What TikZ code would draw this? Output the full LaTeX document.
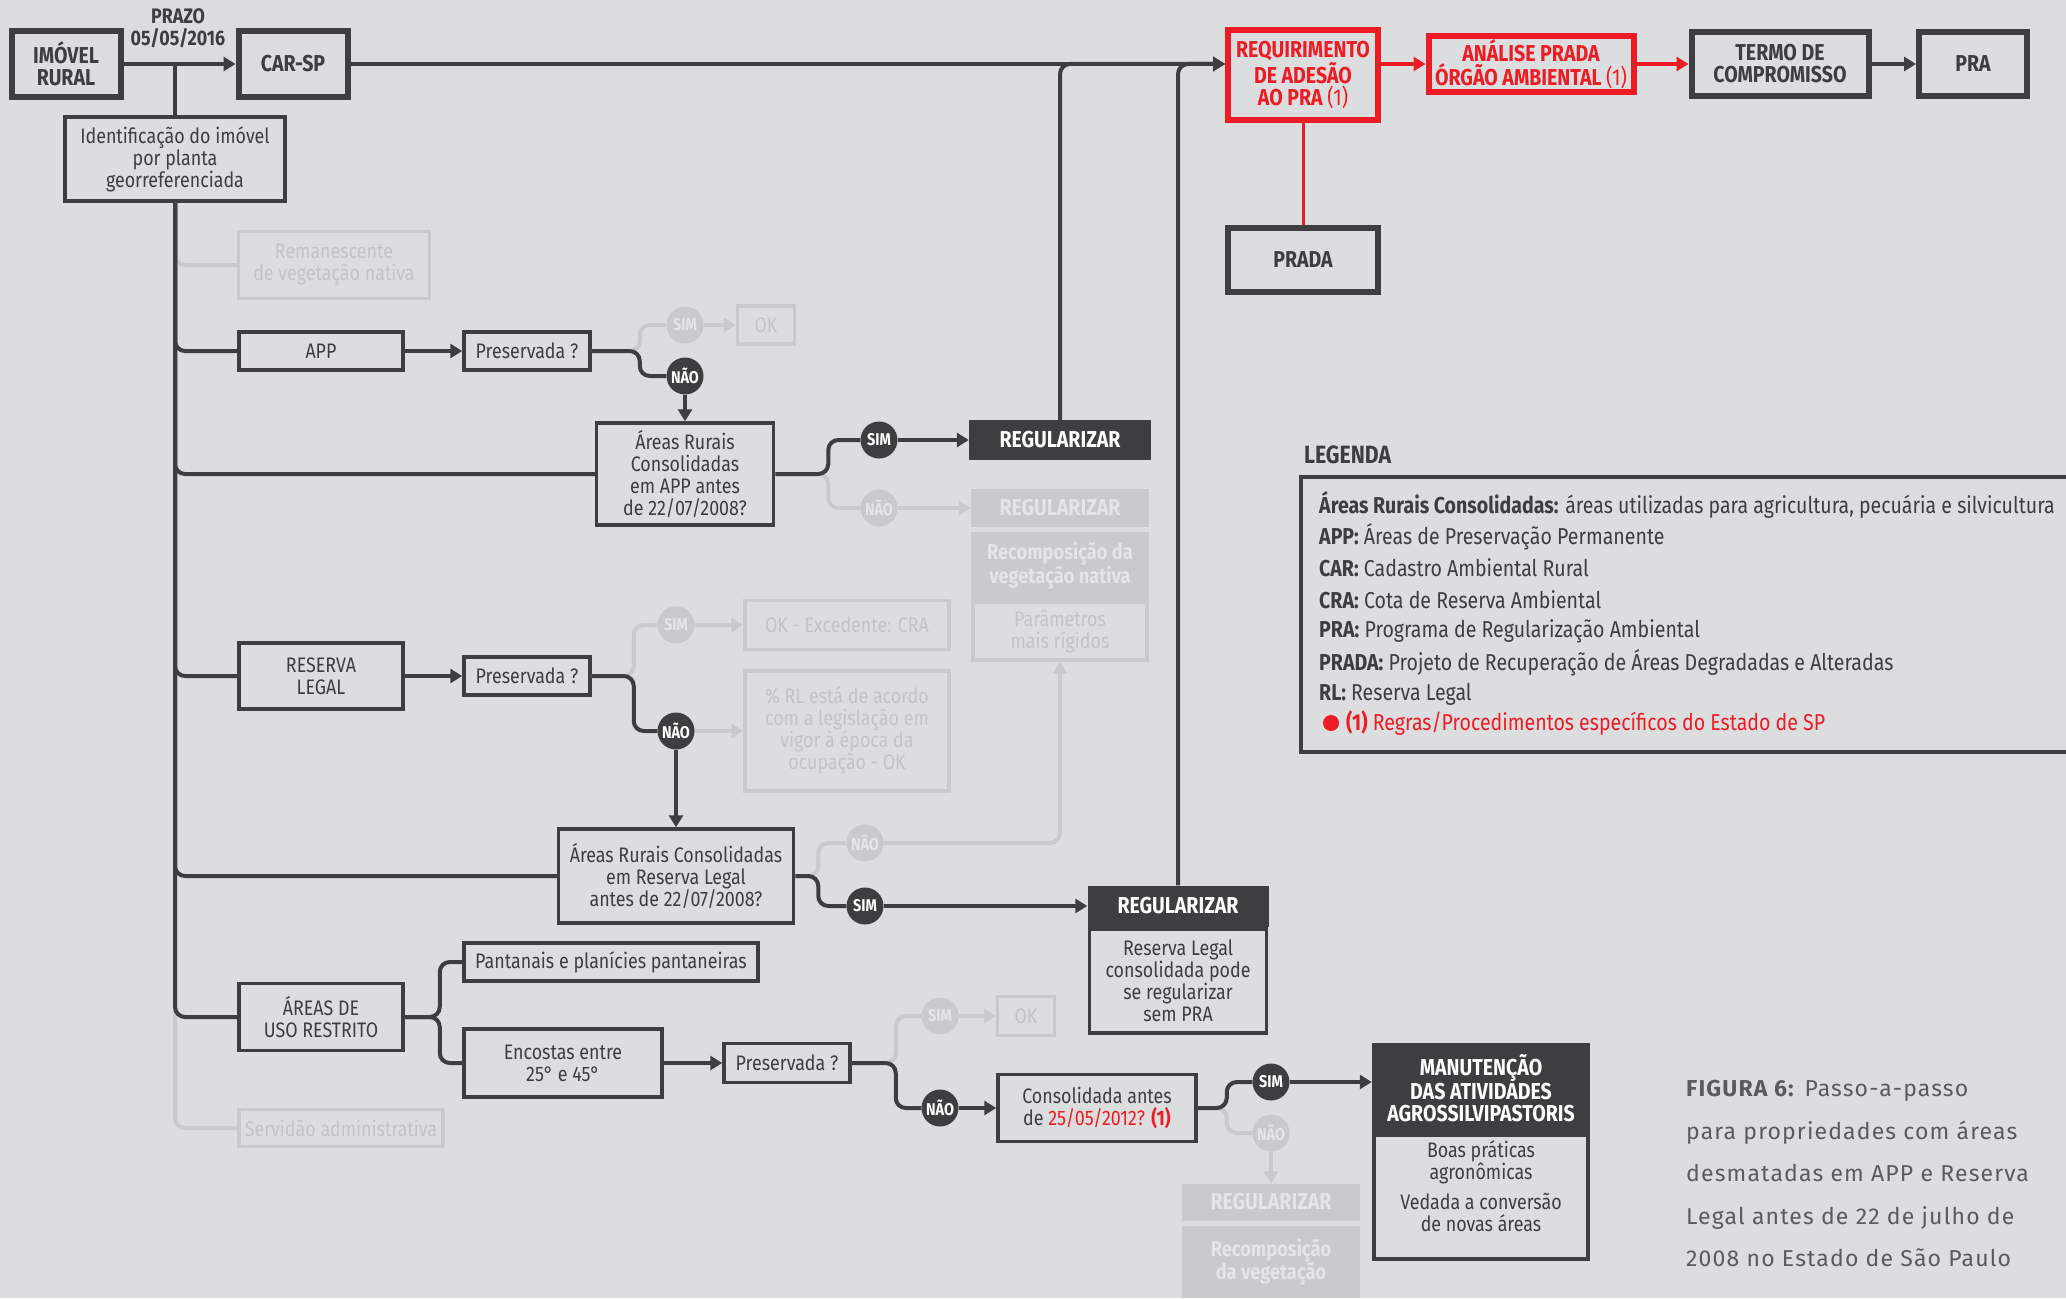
\documentclass[tikz,border=0pt]{standalone}
\usepackage{fontspec}
\setmainfont{Fira Sans}[FakeStretch=0.85]
\newfontfamily\capfont{Fira Sans}[LetterSpace=5]
\usetikzlibrary{arrows.meta}
\definecolor{dk}{HTML}{3E3E40}
\definecolor{bgc}{HTML}{DCDDDF}
\definecolor{fd}{HTML}{C9CACC}
\definecolor{fdtxt}{HTML}{C3C4C6}
\definecolor{fdw}{HTML}{E4E5E7}
\definecolor{rd}{HTML}{ED1C24}
\begin{document}
\begin{tikzpicture}[x=1pt,y=-1pt,>={Triangle[length=12pt,width=14pt]},
  bigbox/.style={draw=dk,line width=6pt,text=dk,font=\bfseries\fontsize{23}{22}\selectfont,align=center,inner sep=0pt},
  redbox/.style={bigbox,draw=rd,text=rd},
  midbox/.style={draw=dk,line width=3.5pt,text=dk,font=\fontsize{21}{22}\selectfont,align=center,inner sep=0pt},
  fadebox/.style={midbox,draw=fd,text=fdtxt},
  headbox/.style={fill=dk,text=white,font=\bfseries\fontsize{23}{22}\selectfont,align=center,inner sep=0pt},
  fadehead/.style={headbox,fill=fd,text=fdw},
  answer/.style={circle,fill=dk,text=white,font=\bfseries\fontsize{17}{17}\selectfont,minimum size=37pt,inner sep=0pt},
  fadeanswer/.style={answer,fill=fd,text=fdw},
  link/.style={draw=dk,line width=4pt,rounded corners=10pt},
  fadelink/.style={link,draw=fd},
  redlink/.style={link,draw=rd},
  legtext/.style={anchor=west,inner sep=0pt,text=dk,font=\fontsize{23}{22}\selectfont}]
\fill[bgc] (0,0) rectangle (2066,1298);
\useasboundingbox (0,0) rectangle (2066,1298);

\node[bigbox,minimum width=109pt,minimum height=65pt] (imovel) at (66,64) {IMÓVEL\\RURAL};
\node[bigbox,minimum width=109pt,minimum height=65pt] (car) at (293,64) {CAR-SP};
\node[inner sep=0pt,text=dk,align=center,font=\bfseries\fontsize{21}{22}\selectfont] (prazo) at (178,28) {PRAZO\\05/05/2016};
\node[redbox,minimum width=150pt,minimum height=90pt] (req) at (1303,75) {REQUIRIMENTO\\DE ADESÃO\\AO PRA {\mdseries(1)}};
\node[redbox,minimum width=205pt,minimum height=56pt] (analise) at (1531,64) {ANÁLISE PRADA\\ÓRGÃO AMBIENTAL {\mdseries(1)}};
\node[bigbox,minimum width=177pt,minimum height=64pt] (termo) at (1780,64) {TERMO DE\\COMPROMISSO};
\node[bigbox,minimum width=108pt,minimum height=64pt] (pra) at (1973,64) {PRA};
\node[bigbox,minimum width=150pt,minimum height=64pt] (prada) at (1303,260) {PRADA};

\node[midbox,minimum width=220pt,minimum height=84pt] (ident) at (175,159) {Identificação do imóvel\\por planta\\georreferenciada};
\node[fadebox,minimum width=191pt,minimum height=67pt] (reman) at (334,265) {Remanescente\\de vegetação nativa};
\node[midbox,minimum width=164pt,minimum height=38pt] (app) at (321,351) {APP};
\node[midbox,minimum width=126pt,minimum height=38pt] (pres1) at (527,351) {Preservada ?};
\node[fadebox,minimum width=57pt,minimum height=38pt] (ok1) at (766,325) {OK};
\node[midbox,minimum width=177pt,minimum height=102pt] (arapp) at (685,474) {Áreas Rurais\\Consolidadas\\em APP antes\\de 22/07/2008?};
\node[midbox,minimum width=164pt,minimum height=66pt] (reserva) at (321,676) {RESERVA\\LEGAL};
\node[midbox,minimum width=126pt,minimum height=38pt] (pres2) at (527,676) {Preservada ?};
\node[fadebox,minimum width=204pt,minimum height=49pt] (okcra) at (847,625) {OK - Excedente: CRA};
\node[fadebox,minimum width=204pt,minimum height=120pt] (rlperc) at (847,731) {\% RL está de acordo\\com a legislação em\\vigor à época da\\ocupação - OK};
\node[midbox,minimum width=235pt,minimum height=94pt] (arrl) at (676,876) {Áreas Rurais Consolidadas\\em Reserva Legal\\antes de 22/07/2008?};
\node[midbox,minimum width=164pt,minimum height=67pt] (uso) at (321,1017) {ÁREAS DE\\USO RESTRITO};
\node[midbox,minimum width=294pt,minimum height=38pt] (pant) at (611,962) {Pantanais e planícies pantaneiras};
\node[midbox,minimum width=198pt,minimum height=68pt] (encostas) at (563,1063) {Encostas entre\\25° e 45°};
\node[fadebox,minimum width=204pt,minimum height=37pt] (servidao) at (341,1128) {Servidão administrativa};
\node[midbox,minimum width=126pt,minimum height=39pt] (pres3) at (787,1063) {Preservada ?};
\node[fadebox,minimum width=57pt,minimum height=39pt] (ok3) at (1026,1016) {OK};
\node[midbox,minimum width=198pt,minimum height=67pt] (consol) at (1097,1108) {Consolidada antes\\de {\color{rd}25/05/2012?} {\color{rd}\bfseries(1)}};

\node[headbox,minimum width=182pt,minimum height=40pt] (reg1) at (1060,440) {REGULARIZAR};
\node[fadehead,minimum width=178pt,minimum height=38pt] (reg1f) at (1060,508) {REGULARIZAR};
\node[fadehead,minimum width=178pt,minimum height=68pt,font=\bfseries\fontsize{21.5}{22}\selectfont] (recomp1) at (1060,566) {Recomposição da\\vegetação nativa};
\node[fadebox,minimum width=174pt,minimum height=58pt] (param) at (1060,631) {Parâmetros\\mais rígidos};
\node[midbox,minimum width=177pt,minimum height=104pt] (reg2b) at (1178,981) {Reserva Legal\\consolidada pode\\se regularizar\\sem PRA};
\node[headbox,minimum width=181pt,minimum height=41pt] (reg2h) at (1178,906) {REGULARIZAR};
\node[midbox,minimum width=214pt,minimum height=124pt,text depth=22pt] (manb) at (1481,1197) {Boas práticas\\agronômicas\\[8pt]Vedada a conversão\\de novas áreas};
\node[headbox,minimum width=218pt,minimum height=91pt] (manh) at (1481,1088) {MANUTENÇÃO\\DAS ATIVIDADES\\AGROSSILVIPASTORIS};
\node[fadehead,minimum width=178pt,minimum height=37pt] (reg3f) at (1271,1202) {REGULARIZAR};
\node[fadehead,minimum width=178pt,minimum height=72pt,font=\bfseries\fontsize{21.5}{22}\selectfont] (recomp3) at (1271,1262) {Recomposição\\da vegetação};

\node[answer] (nao1) at (685,376) {NÃO};
\node[fadeanswer] (sim1) at (685,325) {SIM};
\node[answer] (sim2) at (879,440) {SIM};
\node[fadeanswer] (nao2) at (879,508) {NÃO};
\node[fadeanswer] (sim3) at (676,625) {SIM};
\node[answer] (nao3) at (676,731) {NÃO};
\node[fadeanswer] (nao4) at (865,843) {NÃO};
\node[answer] (sim4) at (865,906) {SIM};
\node[fadeanswer] (sim5) at (940,1016) {SIM};
\node[answer] (nao5) at (940,1108) {NÃO};
\node[answer] (sim6) at (1271,1082) {SIM};
\node[fadeanswer] (nao6) at (1271,1133) {NÃO};

\foreach \n in {reman,servidao}
  \draw[fadelink] (ident.south) |- (\n.west);
\draw[fadelink] (pres1.east) -- ++(48,0) |- (sim1.west);
\draw[fadelink] (arapp.east) -- ++(53,0) |- (nao2.west);
\draw[fadelink] (pres2.east) -- ++(42,0) |- (sim3.west);
\draw[fadelink] (arrl.east) -- ++(23,0) |- (nao4.west);
\draw[fadelink] (pres3.east) -- ++(44,0) |- (sim5.west);
\draw[fadelink] (consol.east) -- ++(29,0) |- (nao6.west);
\foreach \a/\b in {sim1/ok1,nao2/reg1f,sim3/okcra,nao3/rlperc,sim5/ok3,nao6/reg3f}
  \draw[fadelink,->] (\a) -- (\b);
\draw[fadelink,->] (nao4.east) -| (param.south);

\draw[link] (ident.north |- imovel.east) -- (ident.north);
\foreach \n in {app,arapp,reserva,arrl,uso}
  \draw[link] (ident.south) |- (\n.west);
\foreach \n in {pant,encostas}
  \draw[link] (uso.east) -- ++(35,0) |- (\n.west);
\draw[link] (pres1.east) -- ++(48,0) |- (nao1.west);
\draw[link] (arapp.east) -- ++(53,0) |- (sim2.west);
\draw[link] (pres2.east) -- ++(42,0) |- (nao3.west);
\draw[link] (arrl.east) -- ++(23,0) |- (sim4.west);
\draw[link] (pres3.east) -- ++(44,0) |- (nao5.west);
\draw[link] (consol.east) -- ++(29,0) |- (sim6.west);
\foreach \a/\b in {imovel/car,app/pres1,nao1/arapp,sim2/reg1,reserva/pres2,nao3/arrl,sim4/reg2h,encostas/pres3,nao5/consol,termo/pra}
  \draw[link,->] (\a) -- (\b);
\draw[link,->] (sim6.east) -- (sim6.east -| manh.west);
\draw[link,->] (car.east) -- (req.west |- car.east);
\foreach \n in {reg1,reg2h}
  \draw[link,->] (\n.north) |- (req.west |- car.east);

\draw[redlink,->] (req.east |- analise.west) -- (analise.west);
\draw[redlink,->] (analise) -- (termo);
\draw[draw=rd,line width=3pt] (req.south) -- (prada.north);

\node[inner sep=0pt,anchor=west,text=dk,font=\bfseries\fontsize{25}{22}\selectfont] (legtitle) at (1304,455) {LEGENDA};
\draw[draw=dk,line width=4pt] (2066,477) -- (1301,477) -- (1301,752) -- (2066,752);
\foreach \term/\desc [count=\i] in {{Áreas Rurais Consolidadas:}/{áreas utilizadas para agricultura, pecuária e silvicultura},APP:/{Áreas de Preservação Permanente},CAR:/{Cadastro Ambiental Rural},CRA:/{Cota de Reserva Ambiental},PRA:/{Programa de Regularização Ambiental},PRADA:/{Projeto de Recuperação de Áreas Degradadas e Alteradas},RL:/{Reserva Legal}}
  \node[legtext] (leg\i) at (1319,{505+31.5*(\i-1)}) {\textbf{\term} \desc};
\node[circle,fill=rd,minimum size=16pt,inner sep=0pt] (legdot) at (1331,723) {};
\node[legtext,text=rd] (legnote) at (1346,723) {\textbf{(1)} Regras/Procedimentos específicos do Estado de SP};

\node[anchor=north west,align=left,inner sep=0pt,text=dk!85,font=\capfont\fontsize{23}{42.5}\selectfont] (caption) at (1686,1080) {\textbf{FIGURA 6:} Passo-a-passo\\para propriedades com áreas\\desmatadas em APP e Reserva\\Legal antes de 22 de julho de\\2008 no Estado de São Paulo};
\end{tikzpicture}
\end{document}
